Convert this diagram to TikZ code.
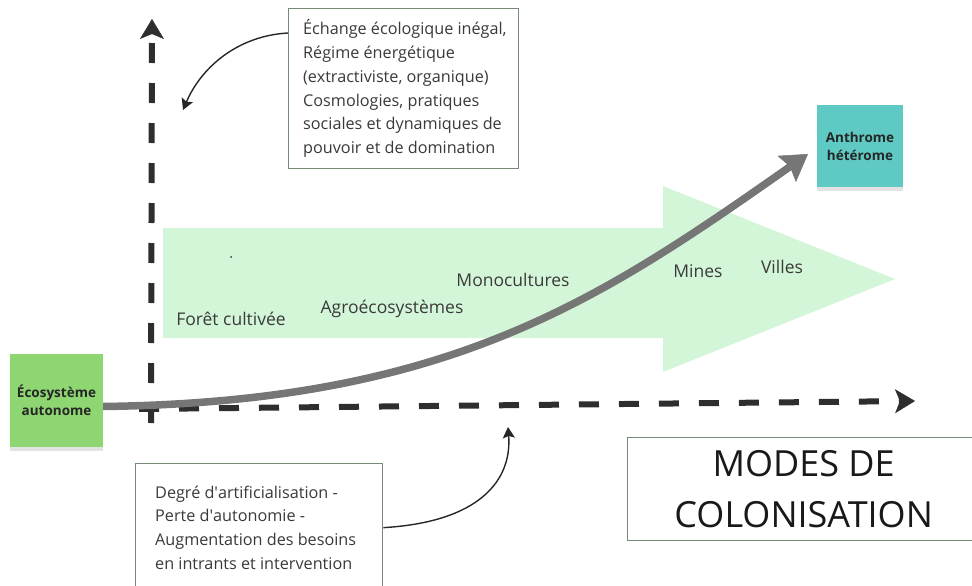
\documentclass[tikz,border=0pt]{standalone}
\usepackage{fontspec}
\setmainfont{Open Sans}
\usetikzlibrary{arrows.meta,shadows}

\definecolor{axisdark}{HTML}{2E2E2E}
\definecolor{flowgreen}{HTML}{D4F6D8}
\definecolor{curvegray}{HTML}{767676}
\definecolor{notegreen}{HTML}{8DD672}
\definecolor{noteteal}{HTML}{5FCAC4}
\definecolor{framegray}{HTML}{748A76}
\definecolor{bodytext}{HTML}{3A3A3A}

\tikzset{
  axisline/.style={line width=6pt, draw=axisdark, dash pattern=on 20pt off 20pt,
    -{Stealth[length=20pt,width=24pt,inset=5pt,line width=0.5pt]}},
  trend/.style={line width=7.5pt, draw=curvegray,
    -{Stealth[length=26pt,width=32pt,inset=4pt,line width=0.5pt]}},
  sticky/.style={minimum width=93pt, minimum height=93pt, inner sep=0pt, align=center,
    font=\fontsize{13.5}{18}\selectfont\bfseries, text=black!85,
    drop shadow={opacity=0.22, shadow xshift=0pt, shadow yshift=-3.5pt}},
  framebox/.style={draw=framegray, line width=1.3pt, fill=white, inner sep=0pt},
  boxtext/.style={font=\fontsize{16.2}{23.8}\selectfont, text=bodytext, align=left,
    inner sep=0pt, anchor=west},
  stagelabel/.style={font=\fontsize{17.5}{20}\selectfont, text=bodytext},
  link/.style={line width=1.4pt, draw=black!85,
    -{Stealth[length=11pt,width=12pt,inset=2pt]}},
}

\begin{document}
\begin{tikzpicture}[x=1pt,y=-1pt]
\useasboundingbox (0,0) rectangle (972,586);

% broad flow arrow of land-use stages
\fill[flowgreen] (163,228) -- (663,228) -- (663,186) -- (895,279)
  -- (663,372) -- (663,338) -- (163,338) -- cycle;
\fill[bodytext] (231,257) circle (1pt);
\node[stagelabel] (foret) at (231,319) {Forêt cultivée};
\node[stagelabel] (agro) at (392,309) {Agroécosystèmes};
\node[stagelabel] (mono) at (513,280) {Monocultures};
\node[stagelabel] (mines) at (698,271) {Mines};
\node[stagelabel] (villes) at (782,267) {Villes};

% axes
\coordinate (vbase) at (151,423);
\coordinate (vtop) at (152,19);
\coordinate (hbase) at (139,409);
\coordinate (htip) at (915,401);
\draw[axisline] (vbase) -- (vtop);
\draw[axisline] (hbase) -- (htip);

% sticky notes
\node[sticky, fill=notegreen] (eco) at (56.5,400.5) {Écosystème\\autonome};
\node[sticky, fill=noteteal, minimum width=86pt, minimum height=82pt]
  (anthro) at (860,146) {Anthrome\\hétérome};

% trajectory from autonomous ecosystem to anthrome
\coordinate (trendend) at (808,154);
\draw[trend] ([yshift=-6pt]eco.east) .. controls (450,402) and (600,300) .. (trendend);

% explanatory boxes
\node[framebox, minimum width=230pt, minimum height=160pt, anchor=north west]
  (cosmo) at (288,8) {};
\node[boxtext] (cosmotext) at ([xshift=15pt]cosmo.west)
  {Échange écologique inégal,\\Régime énergétique\\(extractiviste, organique)\\
   Cosmologies, pratiques\\sociales et dynamiques de\\pouvoir et de domination};
\node[framebox, minimum width=247pt, minimum height=128pt, anchor=north west]
  (artif) at (135,463) {};
\node[boxtext] (artiftext) at ([xshift=20pt]artif.west)
  {Degré d\textquotesingle artificialisation -\\Perte d\textquotesingle autonomie -\\
   Augmentation des besoins\\en intrants et intervention};
\node[framebox, minimum width=352pt, minimum height=103pt,
  anchor=north west, align=center, text=black!90,
  font=\fontsize{36}{51}\selectfont] (modes) at (627,437)
  {MODES DE\\COLONISATION};

% links from the boxes to the axes
\coordinate (vaxisnote) at (183,110);
\coordinate (haxisnote) at (508,427);
\draw[link] ([yshift=-25pt]cosmo.north west) .. controls (235,36) and (200,70) .. (vaxisnote);
\draw[link] (artif.east) .. controls (480,522) and (512,480) .. (haxisnote);
\end{tikzpicture}
\end{document}
